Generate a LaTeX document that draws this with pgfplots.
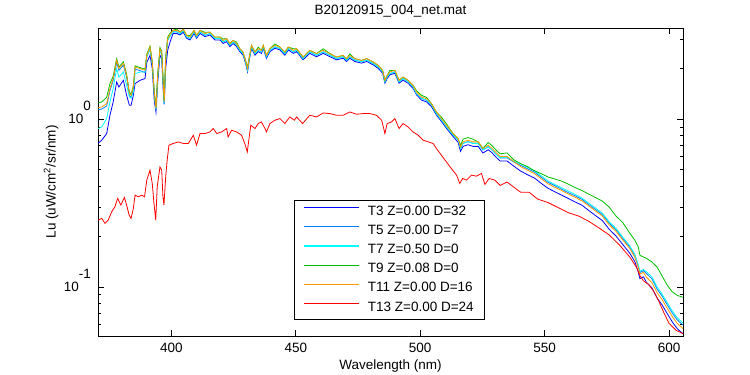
\documentclass[border=0pt]{standalone}
\usepackage{fontspec}
\setmainfont{Liberation Sans}
\usepackage{pgfplots}
\pgfplotsset{compat=1.18}
\usepackage{pgfplotstable}

\pgfplotstableread{
x T3 T5 T7 T9 T11
370.6 0.720 1.14 0.880 1.250 1.170
372.0 0.750 1.15 0.900 1.268 1.184
374.0 0.822 1.20 1.010 1.352 1.240
375.3 1.056 1.48 1.268 1.631 1.523
376.6 1.268 1.70 1.523 1.803 1.747
378.0 1.667 2.18 2.003 2.300 2.245
378.9 1.557 1.96 1.785 2.05 2.012
380.7 1.707 2.10 1.912 2.20 2.154
382.0 1.389 1.78 1.594 1.86 1.828
383.1 1.212 1.39 1.358 1.45 1.428
383.8 1.212 1.35 1.334 1.41 1.389
384.7 1.389 1.51 1.454 1.58 1.557
385.4 1.631 1.99 1.871 2.08 2.048
387.4 1.707 1.95 1.912 2.03 2.003
389.4 1.747 1.90 1.912 1.99 1.957
390.1 2.185 2.35 2.36 2.44 2.404
391.4 2.404 2.63 2.64 2.73 2.694
392.3 2.012 2.14 2.15 2.22 2.193
393.1 1.297 1.42 1.43 1.48 1.454
393.8 1.101 1.13 1.14 1.18 1.158
394.5 1.660 1.79 1.79 1.86 1.828
395.4 2.404 2.58 2.58 2.68 2.635
396.1 2.307 2.46 2.46 2.56 2.515
396.7 1.488 1.63 1.63 1.70 1.667
397.1 1.228 1.24 1.24 1.29 1.268
397.7 2.012 2.26 2.26 2.35 2.307
398.5 2.575 2.96 2.96 3.08 3.022
399.4 2.873 3.13 3.13 3.25 3.193
400.7 3.25 3.32 3.32 3.387 3.387
402.1 3.25 3.32 3.32 3.45 3.387
403.4 3.18 3.24 3.24 3.308 3.308
404.8 3.30 3.37 3.37 3.434 3.434
406.1 3.04 3.10 3.10 3.162 3.162
407.5 2.97 3.03 3.03 3.15 3.090
409.1 3.25 3.32 3.32 3.387 3.387
410.1 3.04 3.10 3.10 3.162 3.162
411.5 3.25 3.32 3.32 3.387 3.387
413.5 3.11 3.17 3.17 3.30 3.236
415.5 3.18 3.24 3.24 3.308 3.308
417.5 2.97 3.03 3.03 3.090 3.090
419.5 2.97 3.03 3.03 3.090 3.090
420.8 2.83 2.89 2.89 3.01 2.953
422.2 2.90 2.96 2.96 3.022 3.022
423.5 2.71 2.77 2.77 2.822 2.822
424.8 2.83 2.89 2.89 2.953 2.953
426.2 2.71 2.77 2.77 2.88 2.822
427.5 2.53 2.58 2.58 2.635 2.635
428.8 2.41 2.46 2.46 2.515 2.515
429.8 2.16 2.20 2.20 2.245 2.245
430.6 1.92 1.96 1.96 2.04 2.003
431.3 2.26 2.30 2.30 2.349 2.349
432.2 2.65 2.70 2.70 2.757 2.757
433.6 2.41 2.46 2.46 2.515 2.515
434.9 2.53 2.58 2.58 2.69 2.635
436.2 2.47 2.52 2.52 2.575 2.575
436.9 2.65 2.70 2.70 2.757 2.757
438.2 2.31 2.36 2.36 2.404 2.404
439.6 2.53 2.58 2.58 2.635 2.635
441.6 2.65 2.70 2.70 2.81 2.757
443.6 2.59 2.64 2.64 2.694 2.694
445.6 2.41 2.46 2.46 2.515 2.515
447.0 2.59 2.64 2.64 2.694 2.694
449.0 2.47 2.52 2.52 2.63 2.575
450.3 2.53 2.58 2.58 2.635 2.635
452.9 2.26 2.30 2.30 2.349 2.349
455.6 2.47 2.52 2.52 2.575 2.575
458.3 2.36 2.41 2.41 2.461 2.461
461.0 2.47 2.52 2.52 2.63 2.575
463.7 2.36 2.41 2.41 2.461 2.461
466.4 2.26 2.30 2.30 2.349 2.349
469.0 2.31 2.36 2.36 2.404 2.404
470.4 2.21 2.25 2.25 2.298 2.298
471.7 2.31 2.36 2.36 2.45 2.404
473.7 2.21 2.25 2.25 2.298 2.298
476.4 2.16 2.20 2.20 2.245 2.245
478.5 2.21 2.25 2.25 2.298 2.298
481.1 2.11 2.15 2.15 2.193 2.193
483.1 2.01 2.05 2.05 2.096 2.096
484.9 1.88 1.92 1.92 1.957 1.957
485.8 1.64 1.67 1.67 1.707 1.707
486.7 1.75 1.79 1.79 1.828 1.828
487.8 1.84 1.87 1.87 1.95 1.912
489.8 1.88 1.92 1.92 1.957 1.957
491.5 1.64 1.67 1.67 1.707 1.707
493.1 1.71 1.75 1.75 1.785 1.785
495.1 1.64 1.67 1.67 1.707 1.707
497.1 1.53 1.56 1.56 1.594 1.594
498.5 1.40 1.42 1.42 1.48 1.454
500.5 1.30 1.33 1.33 1.39 1.358
502.5 1.27 1.30 1.30 1.35 1.328
504.5 1.19 1.22 1.22 1.240 1.240
506.5 1.06 1.08 1.08 1.105 1.105
508.5 0.970 0.990 0.990 1.030 1.010
510.5 0.884 0.903 0.903 0.940 0.921
513.2 0.789 0.806 0.806 0.822 0.822
515.2 0.730 0.753 0.753 0.768 0.768
516.2 0.643 0.670 0.670 0.698 0.684
517.2 0.689 0.718 0.718 0.760 0.733
519.2 0.705 0.735 0.735 0.778 0.750
521.2 0.689 0.718 0.718 0.760 0.733
523.3 0.689 0.718 0.718 0.733 0.733
525.2 0.629 0.656 0.656 0.669 0.669
527.3 0.658 0.686 0.686 0.726 0.700
528.7 0.634 0.660 0.660 0.699 0.674
530.7 0.589 0.614 0.614 0.650 0.627
532.1 0.564 0.588 0.588 0.622 0.600
534.9 0.564 0.588 0.594 0.630 0.600
537.6 0.525 0.556 0.562 0.5726 0.559
540.4 0.490 0.531 0.542 0.5434 0.521
543.1 0.467 0.507 0.517 0.5215 0.497
545.8 0.447 0.485 0.494 0.4938 0.475
548.6 0.415 0.451 0.460 0.4738 0.442
551.3 0.388 0.421 0.429 0.4529 0.4126
554.0 0.370 0.402 0.409 0.4406 0.3937
556.8 0.353 0.383 0.391 0.4276 0.3758
559.5 0.337 0.365 0.373 0.4103 0.3582
562.3 0.321 0.349 0.356 0.3911 0.3419
565.0 0.307 0.333 0.339 0.3758 0.3263
567.7 0.286 0.310 0.316 0.3577 0.3043
570.5 0.266 0.289 0.295 0.3409 0.2834
573.2 0.249 0.270 0.275 0.3249 0.2646
575.9 0.221 0.240 0.245 0.2994 0.2351
578.7 0.201 0.219 0.223 0.2646 0.2143
581.4 0.179 0.194 0.198 0.2420 0.1905
584.2 0.159 0.173 0.176 0.2093 0.1695
586.2 0.142 0.154 0.157 0.1905 0.1509
587.6 0.123 0.134 0.136 0.1735 0.1312
588.3 0.112 0.122 0.124 0.1544 0.1195
589.7 0.115 0.125 0.127 0.1509 0.1221
591.0 0.106 0.120 0.123 0.1478 0.1139
593.1 0.0988 0.112 0.115 0.1409 0.1062
595.2 0.0859 0.0970 0.0998 0.1312 0.0924
597.2 0.0781 0.0882 0.0907 0.1163 0.0840
599.2 0.0696 0.0785 0.0808 0.1028 0.0748
601.3 0.0619 0.0699 0.0719 0.0934 0.0666
603.3 0.0564 0.0636 0.0654 0.0890 0.0606
605.6 0.0525 0.0593 0.0610 0.0868 0.0565
}\upper

\pgfplotstableread{
x T13
370.6 0.2500
372.0 0.2564
373.3 0.2394
374.6 0.2505
376.0 0.2807
377.3 0.3006
378.4 0.3373
379.7 0.3076
381.1 0.3419
382.0 0.3076
383.0 0.2683
383.8 0.2564
384.7 0.2941
385.4 0.3529
386.7 0.3448
388.1 0.3529
389.2 0.3448
390.1 0.4335
391.4 0.4970
392.3 0.4143
393.0 0.3149
393.7 0.2505
394.3 0.3954
395.4 0.5200
396.1 0.4970
396.6 0.3448
397.0 0.3076
397.7 0.4534
398.3 0.5701
399.0 0.7000
400.7 0.7166
402.8 0.7325
404.8 0.7166
406.8 0.7166
408.8 0.8028
410.1 0.7000
411.5 0.8220
413.5 0.8220
415.5 0.8402
416.8 0.8804
418.2 0.8220
420.2 0.8402
422.2 0.8804
422.8 0.7847
424.2 0.8601
426.2 0.8402
428.2 0.8028
429.5 0.7166
430.5 0.6387
431.1 0.7500
431.9 0.9210
433.6 0.8804
434.9 0.9428
436.2 0.9636
437.6 0.8804
438.2 0.8402
439.6 0.9428
441.6 0.9864
443.6 1.0096
445.6 0.9428
447.6 1.0320
449.4 0.9864
450.3 1.0320
452.7 0.9428
455.6 1.0560
458.3 1.0320
461.0 1.0900
463.7 1.0810
466.4 1.0560
469.0 1.0560
471.7 1.1050
474.4 1.0710
477.1 1.0810
479.8 1.0810
482.4 1.0560
484.5 0.9864
485.8 0.8220
486.7 0.9428
488.5 0.9636
489.8 1.0096
491.5 0.8804
493.1 0.9428
495.1 0.9000
497.1 0.8402
499.2 0.8028
501.2 0.7500
503.2 0.7330
505.2 0.7166
506.5 0.6690
508.5 0.6105
510.5 0.5568
512.5 0.5088
514.6 0.4642
515.9 0.4143
517.0 0.4436
518.6 0.4335
520.6 0.4642
522.6 0.4578
524.6 0.4750
526.0 0.4087
527.7 0.4436
530.1 0.4323
532.1 0.4031
534.9 0.4223
537.6 0.3937
540.4 0.3667
543.8 0.3667
547.2 0.3340
551.3 0.3188
555.4 0.2973
559.5 0.2772
563.7 0.2646
567.7 0.2464
571.9 0.2245
575.9 0.2045
580.1 0.1778
584.2 0.1509
586.9 0.1312
588.3 0.1166
589.7 0.1087
591.7 0.1038
593.8 0.0945
595.9 0.0821
598.0 0.0698
600.0 0.0606
602.8 0.0552
605.6 0.0527
}\redtab

\definecolor{cT3}{rgb}{0,0,1}
\definecolor{cT5}{rgb}{0,0.5,1}
\definecolor{cT7}{rgb}{0,1,1}
\definecolor{cT9}{rgb}{0,0.75,0}
\definecolor{cT11}{rgb}{1,0.6,0}
\definecolor{cT13}{rgb}{1,0,0}

\begin{document}
\fontsize{13.5bp}{16bp}\selectfont
\begin{tikzpicture}
\useasboundingbox (0,0) rectangle (750bp,375bp);
\begin{axis}[
  at={(98bp,39bp)}, anchor=south west,
  scale only axis, width=585bp, height=308bp,
  ymode=log,
  xmin=370.5, xmax=605.6, ymin=0.051, ymax=3.5,
  xtick={400,450,500,550,600},
  xticklabels={400,450,500,550,600},
  ytick={0.1,1},
  yticklabels={10\smash{\raisebox{13bp}{-1}},10\smash{\raisebox{13bp}{0}}},
  minor ytick={0.06,0.07,0.08,0.09,0.2,0.3,0.4,0.5,0.6,0.7,0.8,0.9,2,3},
  xtick pos=both, ytick pos=both,
  tick align=inside,
  major tick length=6bp, minor tick length=3bp,
  every tick/.style={black, line width=0.8bp},
  axis line style={black, line width=0.8bp},
  xticklabel style={anchor=base, inner sep=0pt, yshift=-16bp},
  yticklabel style={anchor=east, inner sep=0pt, xshift=-7bp},
  title={B20120915\_004\_net.mat},
  title style={at={([yshift=8bp]axis description cs:0.5,1)}, anchor=base, inner sep=0pt},
  xlabel={Wavelength (nm)},
  xlabel style={at={([yshift=-33bp]axis description cs:0.5,0)}, anchor=base, inner sep=0pt},
  ylabel={Lu (uW/cm\textsuperscript{2}/sr/nm)},
  ylabel style={at={([xshift=-47bp]axis description cs:0,0.5)}, anchor=center, inner sep=0pt},
  legend style={at={(0.335,0.4416)}, anchor=north west,
    inner xsep=9bp, inner ysep=4bp, row sep=4.2bp,
    nodes={inner sep=1.5bp, text height=9.5bp, text depth=2.5bp},
    cells={anchor=west}},
  legend image code/.code={\draw[#1, line width=1.2bp] (0bp,4bp) -- (55bp,4bp);},
  every axis plot/.append style={line width=0.8bp, mark=none},
]
\addplot[color=cT3] table[x=x,y=T3]{\upper};
\addlegendentry{\hspace{7bp}T3 Z=0.00 D=32}
\addplot[color=cT5] table[x=x,y=T5]{\upper};
\addlegendentry{\hspace{7bp}T5 Z=0.00 D=7}
\addplot[color=cT7] table[x=x,y=T7]{\upper};
\addlegendentry{\hspace{7bp}T7 Z=0.50 D=0}
\addplot[color=cT9] table[x=x,y=T9]{\upper};
\addlegendentry{\hspace{7bp}T9 Z=0.08 D=0}
\addplot[color=cT11] table[x=x,y=T11]{\upper};
\addlegendentry{\hspace{7bp}T11 Z=0.00 D=16}
\addplot[color=cT13] table[x=x,y=T13]{\redtab};
\addlegendentry{\hspace{7bp}T13 Z=0.00 D=24}
\end{axis}
\end{tikzpicture}
\end{document}
